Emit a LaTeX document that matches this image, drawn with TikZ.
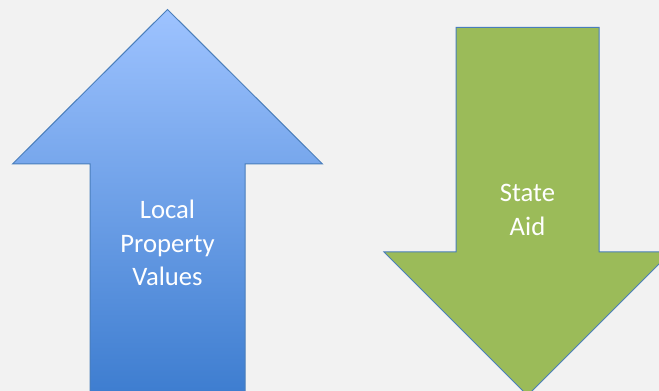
\documentclass[tikz,border=0pt]{standalone}
\usepackage{fontspec}
\setmainfont{Carlito}
\definecolor{bggray}{HTML}{F2F2F2}
\definecolor{blueline}{HTML}{4A7EBB}
\definecolor{bluetop}{HTML}{9EC3FF}
\definecolor{bluebottom}{HTML}{3C7CCF}
\definecolor{aidgreen}{HTML}{9BBB59}

\begin{document}
\begin{tikzpicture}[x=0.75pt, y=-0.75pt,
	bigarrow/.style={draw=blueline, line width=0.75pt, line join=miter},
	label/.style={text=white, align=center, font=\fontsize{20}{25}\selectfont}]

\fill[bggray] (0,0) rectangle (659,391);
\useasboundingbox (0,0) rectangle (659,391);
\clip (0,0) rectangle (659,391);

% rising arrow, shaded light to dark
\shade[bigarrow, top color=bluetop, bottom color=bluebottom]
	(167.5,9.5) -- (322.5,164) -- (245,164) -- (245,400)
	-- (90,400) -- (90,164) -- (12.5,164) -- cycle;
\node[label] (local) at (167.5,243) {Local\\Property\\Values};

% falling arrow
\filldraw[bigarrow, fill=aidgreen]
	(456,27.5) -- (599,27.5) -- (599,252) -- (671,252)
	-- (527.5,395.5) -- (384,252) -- (456,252) -- cycle;
\node[label] (stateaid) at (527.5,210) {State\\Aid};

\end{tikzpicture}
\end{document}
